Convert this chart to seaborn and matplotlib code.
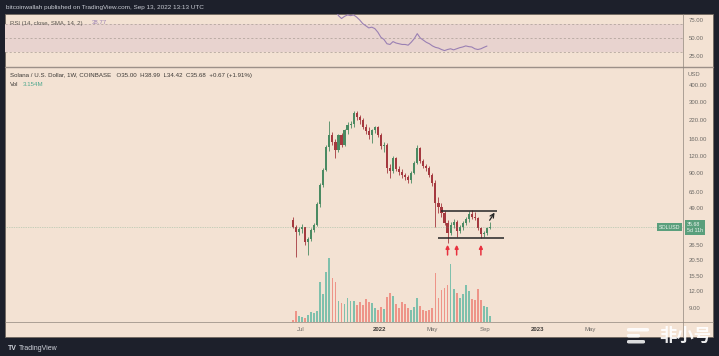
import matplotlib
matplotlib.use("Agg")
import matplotlib.pyplot as plt
import matplotlib.transforms as mtransforms
from matplotlib.lines import Line2D
from matplotlib.patches import Rectangle, FancyBboxPatch
from matplotlib.ticker import NullLocator
import numpy as np
import pandas as pd
import seaborn as sns

# weekly SOL/USD bars (COINBASE, 1W), first bar = week of 2021-06-14
first_week = '2021-06-14'
opens = [40.3, 35.8, 33.0, 34.5, 35.5, 27.5, 29.0, 34.0, 37.0, 53.0, 73.0, 94.0, 139.0, 171.0,
         152.0, 132.0, 171.0, 144.0, 186.0, 203.0, 206.0, 248.0, 232.0, 221.0, 196.0, 182.0,
         171.0, 186.0, 196.0, 171.0, 141.0, 144.0, 97.0, 92.0, 116.0, 95.0, 91.0, 87.0, 84.0,
         79.0, 90.0, 106.0, 137.0, 110.0, 101.0, 97.0, 87.0, 76.0, 54.0, 50.0, 45.0, 38.5,
         32.5, 37.0, 39.0, 33.5, 36.0, 38.5, 41.0, 44.5, 42.5, 41.5, 35.0, 31.5, 32.5, 35.0]
highs = [42.0, 37.0, 36.0, 37.5, 36.0, 30.0, 35.0, 38.5, 55.0, 76.0, 97.0, 145.0, 215.0, 180.0,
         160.0, 175.0, 178.0, 190.0, 213.0, 215.0, 259.0, 258.0, 240.0, 228.0, 205.0, 195.0,
         190.0, 200.0, 200.0, 176.0, 152.0, 148.0, 105.0, 120.0, 118.0, 100.0, 95.0, 90.0, 86.0,
         92.0, 110.0, 143.0, 139.0, 113.0, 104.0, 100.0, 90.0, 79.0, 60.0, 54.0, 47.0, 40.0,
         39.0, 41.0, 40.0, 37.0, 39.5, 42.5, 47.0, 47.5, 46.5, 42.0, 35.5, 33.5, 35.5, 38.99]
lows = [35.0, 21.5, 31.0, 32.0, 26.5, 22.3, 28.0, 33.0, 36.5, 50.0, 70.0, 92.0, 130.0, 145.0,
        116.0, 128.0, 140.0, 141.0, 175.0, 192.0, 196.0, 222.0, 205.0, 190.0, 175.0, 160.0,
        149.0, 176.0, 165.0, 135.0, 128.0, 90.0, 82.0, 90.0, 92.0, 86.0, 82.0, 80.0, 76.0,
        76.0, 88.0, 104.0, 106.0, 97.0, 93.0, 84.0, 72.0, 36.0, 45.0, 42.0, 37.0, 27.0,
        31.0, 35.0, 30.0, 32.0, 34.0, 37.0, 39.0, 41.0, 40.0, 34.0, 29.5, 30.0, 31.0, 34.42]
closes = [35.8, 33.0, 34.5, 35.5, 27.5, 29.0, 34.0, 37.0, 53.0, 73.0, 94.0, 139.0, 171.0, 152.0,
          132.0, 171.0, 144.0, 186.0, 203.0, 206.0, 248.0, 232.0, 221.0, 196.0, 182.0, 171.0,
          186.0, 196.0, 171.0, 141.0, 144.0, 97.0, 92.0, 116.0, 95.0, 91.0, 87.0, 84.0, 79.0,
          90.0, 106.0, 137.0, 110.0, 101.0, 97.0, 87.0, 76.0, 54.0, 50.0, 45.0, 38.5, 32.5,
          37.0, 39.0, 33.5, 36.0, 38.5, 41.0, 44.5, 42.5, 41.5, 35.0, 31.5, 32.5, 35.0, 35.68]
volumes_m = [0.9, 5.9, 3.2, 2.6, 2.0, 3.7, 5.4, 4.8, 5.9, 22.0, 15.3, 27.5, 35.2, 24.2, 22.0,
             11.4, 10.3, 9.8, 13.1, 11.4, 11.4, 9.2, 10.9, 9.2, 12.6, 10.9, 10.3, 7.6, 6.5, 8.1,
             7.0, 13.7, 15.9, 14.2, 9.8, 7.6, 10.9, 9.8, 7.6, 6.5, 8.1, 13.1, 8.7, 6.5, 5.9, 6.5,
             7.6, 26.9, 13.1, 17.5, 18.6, 20.3, 31.9, 18.1, 15.9, 13.1, 15.3, 20.3, 17.0, 12.6,
             12.0, 18.1, 12.0, 8.7, 8.1, 3.154]

rsi_first_bar = 14
rsi = [88, 81, 77, 80, 82, 81, 82, 79, 75, 70, 67, 64, 65, 63, 58, 51, 48, 42, 41, 45, 43, 42,
       41, 41, 40, 44, 49, 56, 50, 47, 44, 42, 39, 37, 36, 34, 32.5, 34, 35, 33.5, 35, 36.5,
       37.5, 39, 38, 37.5, 35, 34, 35, 37, 38.77]

price_ticks = [9, 12, 15.5, 20.5, 26.5, 49, 65, 90, 120, 160, 220, 300, 400]
rsi_ticks = [25, 50, 75]
time_ticks = ['2021-07-01', '2022-01-01', '2022-05-01', '2022-09-01', '2023-01-01', '2023-05-01']
time_labels = ['Jul', '2022', 'May', 'Sep', '2023', 'May']

last_price = 35.68
range_top = 46.9
range_bottom = 29.6
arrow_bars = [51, 54, 62]

sns.set_style('white')
plt.rcParams['font.family'] = ['Liberation Sans', 'DejaVu Sans']

BG = '#f3e2d3'
DARK = '#1d202b'
UP = '#4a8a62'
DOWN = '#a5393f'
VOL_UP = '#7fc0ac'
VOL_DOWN = '#ee9488'
TAG = '#5a9f7c'
RSI_C = '#9a80b3'
AXIS_TXT = '#6d6a66'

W, H = 719, 356
fig = plt.figure(figsize=(W / 100, H / 100), dpi=100, facecolor=DARK)


def fx(px):
    return px / W


def fy(py):
    return 1 - py / H


# chart panel
fig.add_artist(Rectangle((fx(5), fy(337)), fx(713) - fx(5), fy(14) - fy(337),
                         transform=fig.transFigure, facecolor=BG, edgecolor='#6f675f',
                         lw=0.6, zorder=-1))

ax_rsi = fig.add_axes([fx(5), fy(67), fx(683) - fx(5), fy(14) - fy(67)])
ax_vol = fig.add_axes([fx(5), fy(322), fx(683) - fx(5), fy(67) - fy(322)])
ax_px = ax_vol.twinx()
for a in (ax_rsi, ax_vol, ax_px):
    a.set_facecolor('none')
    for s in a.spines.values():
        s.set_visible(False)

weeks = np.arange(len(closes))
o, h, l, c = (np.array(v, dtype=float) for v in (opens, highs, lows, closes))
up = c >= o
xlim = (-95.05, 128.7)

# volume (bottom overlay)
vol_df = pd.DataFrame({'week': weeks, 'volume': volumes_m, 'side': np.where(up, 'up', 'down')})
sns.barplot(data=vol_df, x='week', y='volume', hue='side',
            palette={'up': VOL_UP, 'down': VOL_DOWN}, native_scale=True, dodge=False,
            width=0.6, saturation=1, errorbar=None, legend=False, ax=ax_vol,
            linewidth=0, edgecolor='none')
ax_vol.set_ylim(0, 141)
ax_vol.set_yticks([])
ax_vol.set_xlabel('')
ax_vol.set_ylabel('')

# candles
colors = np.where(up, UP, DOWN)
ax_px.vlines(weeks, l, h, colors=colors, lw=0.6)
ax_px.bar(weeks, np.abs(c - o), bottom=np.minimum(o, c), width=0.7, color=colors, lw=0)
ax_px.set_yscale('log')
ax_px.set_ylim(7.1, 543)
ax_px.set_yticks(price_ticks)
ax_px.set_yticklabels([f'{t:.2f}' for t in price_ticks])
ax_px.yaxis.set_minor_locator(NullLocator())
ax_px.tick_params(axis='y', length=0, pad=4, labelsize=4.3, labelcolor=AXIS_TXT)
ax_px.set_ylabel('')

# last price line and tags
ax_px.axhline(last_price, color=TAG, lw=0.5, ls=(0, (1, 1.5)), alpha=0.6)
blend = mtransforms.blended_transform_factory(ax_px.transAxes, ax_px.transData)
ax_px.text(0.996, last_price, 'SOLUSD', transform=blend, ha='right', va='center',
           fontsize=3.8, color='#eef5ef',
           bbox=dict(boxstyle='square,pad=0.35', fc=TAG, ec='none'))
ax_px.annotate('35.68\n5d 11h', xy=(1, last_price), xycoords=blend, xytext=(3, 3.3),
               textcoords='offset points', ha='left', va='top', fontsize=3.8,
               color='#eef5ef', linespacing=1.1,
               bbox=dict(boxstyle='square,pad=0.4', fc=TAG, ec='none'),
               annotation_clip=False)

# range drawing
ax_px.hlines(range_top, 48.8, 67.3, color='#262626', lw=1.1)
ax_px.hlines(range_bottom, 47.9, 69.6, color='#262626', lw=1.1)
ax_px.annotate('', xy=(67.0, 47.5), xytext=(64.4, 38.5),
               arrowprops=dict(arrowstyle='->', color='#262626', lw=0.9, mutation_scale=7))
for b in arrow_bars:
    ax_px.annotate('', xy=(b, 26.4), xytext=(b, 22.2),
                   arrowprops=dict(arrowstyle='-|>', color='#e8313f', lw=1.1,
                                   mutation_scale=5, shrinkA=0, shrinkB=0))

# time axis
t0 = pd.Timestamp(first_week)
tick_pos = [(pd.Timestamp(d) - t0).days / 7 for d in time_ticks]
ax_vol.set_xlim(*xlim)
ax_vol.set_xticks(tick_pos)
ax_vol.set_xticklabels(time_labels)
ax_vol.tick_params(axis='x', length=0, pad=3.5, labelsize=4.3, labelcolor=AXIS_TXT)
for lab in ax_vol.get_xticklabels():
    if lab.get_text().isdigit():
        lab.set_fontweight('bold')
        lab.set_color('#3e3b38')

# RSI pane
ax_rsi.axhspan(30, 70, color='#e8d3cf', lw=0)
for lvl in (70, 50, 30):
    ax_rsi.axhline(lvl, color='#a99d95', lw=0.5, dashes=(3, 3))
rsi_weeks = np.arange(rsi_first_bar, rsi_first_bar + len(rsi))
sns.lineplot(x=rsi_weeks, y=rsi, ax=ax_rsi, color=RSI_C, lw=0.8)
ax_rsi.set_xlim(*xlim)
ax_rsi.set_ylim(9.7, 83.3)
ax_rsi.set_xticks([])
ax_rsi.yaxis.tick_right()
ax_rsi.set_yticks(rsi_ticks)
ax_rsi.set_yticklabels([f'{t:.2f}' for t in rsi_ticks])
ax_rsi.tick_params(axis='y', length=0, pad=4, labelsize=4.3, labelcolor=AXIS_TXT)

# pane separators
fig.add_artist(Line2D([fx(5), fx(713)], [fy(67), fy(67)], color='#9c9088', lw=1.0))
fig.add_artist(Line2D([fx(5), fx(713)], [fy(322), fy(322)], color='#8f857c', lw=0.5))
fig.add_artist(Line2D([fx(683), fx(683)], [fy(14), fy(337)], color='#8f857c', lw=0.5))

# texts
fig.text(fx(6), fy(8), 'bitcoinwallah published on TradingView.com, Sep 13, 2022 13:13 UTC',
         fontsize=4.6, color='#c9ccd4', va='center')
fig.text(fx(10), fy(23), 'RSI (14, close, SMA, 14, 2)', fontsize=4.3, color='#5a5550', va='center')
fig.text(fx(92), fy(23), '38.77', fontsize=4.3, color=RSI_C, va='center')
fig.text(fx(10), fy(75.7),
         'Solana / U.S. Dollar, 1W, COINBASE   O35.00  H38.99  L34.42  C35.68  +0.67 (+1.91%)',
         fontsize=4.4, color='#3b3835', va='center')
fig.text(fx(10), fy(85), 'Vol', fontsize=4.4, color='#3b3835', va='center')
fig.text(fx(23), fy(85), '3.154M', fontsize=4.4, color='#4fa88e', va='center')
fig.text(fx(688), fy(74), 'USD', fontsize=4.2, color=AXIS_TXT, va='center')

# footer
fig.text(fx(8), fy(348), 'TV', fontsize=5, fontweight='bold', color='#d1d4dc', va='center')
fig.text(fx(19), fy(348), 'TradingView', fontsize=5, color='#d1d4dc', va='center')
for (x0, y0, w) in [(627, 328, 22), (627, 334, 13), (627, 340, 18)]:
    fig.add_artist(FancyBboxPatch((fx(x0), fy(y0 + 3.5)), fx(w), fy(0) - fy(3.5),
                                  boxstyle='round,pad=0,rounding_size=0.003',
                                  transform=fig.transFigure, fc='white', ec='none', alpha=0.85))
fig.text(fx(685), fy(336), '非小号', fontsize=12.5, color='white', ha='center', va='center',
         family=['Noto Sans CJK SC', 'DejaVu Sans'], fontweight='bold', alpha=0.92)

fig.savefig('out.png', dpi=100, facecolor=DARK)
